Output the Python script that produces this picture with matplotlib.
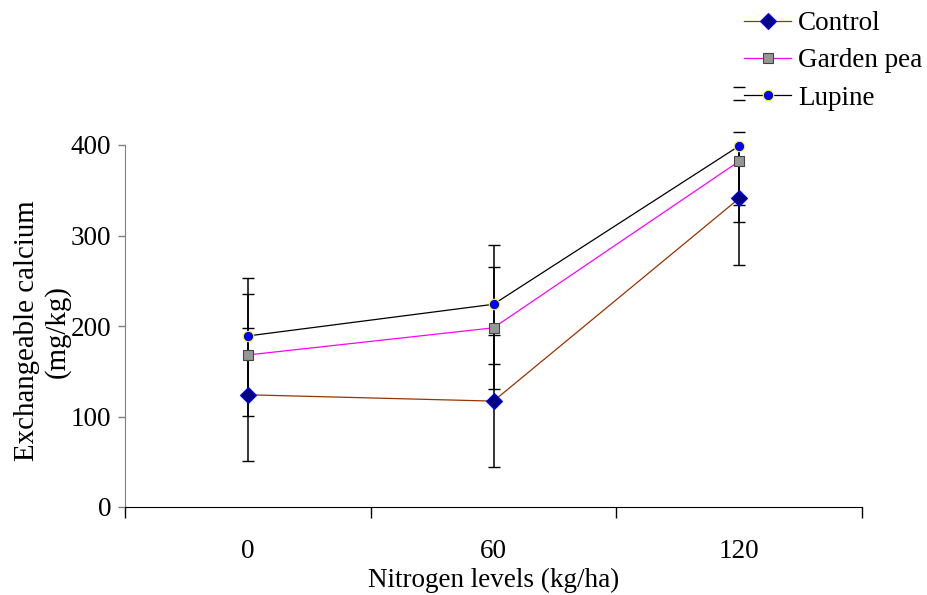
import numpy as np
import matplotlib.pyplot as plt

# exchangeable Ca at three N levels, with error bar half-widths
nitrogen = ['0', '60', '120']
control = [124, 117, 341]
garden_pea = [168, 198, 382]
lupine = [189, 224, 399]
control_err = [73.6, 73.2, 73.6]
garden_pea_err = [67.5, 67.5, 67.5]
lupine_err = [64.0, 65.5, 65.3]

plt.rcParams['font.family'] = ['Liberation Serif', 'DejaVu Serif']
FS = 19.5

fig = plt.figure(figsize=(9.27, 5.95), dpi=100)
ax = fig.add_axes([125 / 927, 1 - 507 / 595, 737 / 927, 362 / 595])

x = np.arange(len(nitrogen))

series = [
    ('Control', control, control_err,
     dict(color='#993300', marker='D', markersize=8.5, markerfacecolor='#000080', markeredgecolor='#0000ff')),
    ('Garden pea', garden_pea, garden_pea_err,
     dict(color='#ff00ff', marker='s', markersize=7.5, markerfacecolor='#969696', markeredgecolor='#444444')),
    ('Lupine', lupine, lupine_err,
     dict(color='black', marker='o', markersize=7.5, markerfacecolor='#0000ff', markeredgecolor='#ffff00')),
]

for name, vals, err, style in series:
    eb = ax.errorbar(x, vals, yerr=err, fmt='none', ecolor='black', elinewidth=1.1,
                     capsize=4.5, capthick=1.0, zorder=2)
    # caps stay visible even when they poke above the top of the axis
    for cap in eb[1]:
        cap.set_clip_on(False)
    ax.plot(x, vals, linewidth=0.9, markeredgewidth=0.8, label=name, zorder=3,
            clip_on=False, **style)

ax.set_xlim(-0.5, 2.5)
ax.set_ylim(0, 400)
ax.set_yticks([0, 100, 200, 300, 400])

# category boundaries carry the tick marks, the centres carry the labels
ax.set_xticks([-0.5, 0.5, 1.5, 2.5])
ax.set_xticklabels([])
ax.set_xticks(x, minor=True)
ax.set_xticklabels(nitrogen, minor=True)
ax.tick_params(axis='x', which='major', direction='out', length=8, width=1, color='black')
ax.tick_params(axis='x', which='minor', length=0, pad=23, labelsize=FS)
ax.tick_params(axis='y', direction='out', length=5, width=1, color='#808080', pad=5, labelsize=FS)

for side in ('top', 'right'):
    ax.spines[side].set_visible(False)
ax.spines['left'].set_color('#808080')
ax.spines['bottom'].set_color('black')

ax.set_xlabel('Nitrogen levels (kg/ha)', fontsize=FS, labelpad=3)
ax.set_ylabel('Exchangeable calcium\n(mg/kg)', fontsize=20.8)
ax.yaxis.set_label_coords(-0.073, 0.486)

fig.legend(loc='upper left', bbox_to_anchor=(744 / 927, 1 - 11 / 595), frameon=False,
           fontsize=FS, handlelength=1.75, handletextpad=0.25, labelspacing=0.46,
           borderpad=0, borderaxespad=0)

fig.savefig('out.png', dpi=100)
